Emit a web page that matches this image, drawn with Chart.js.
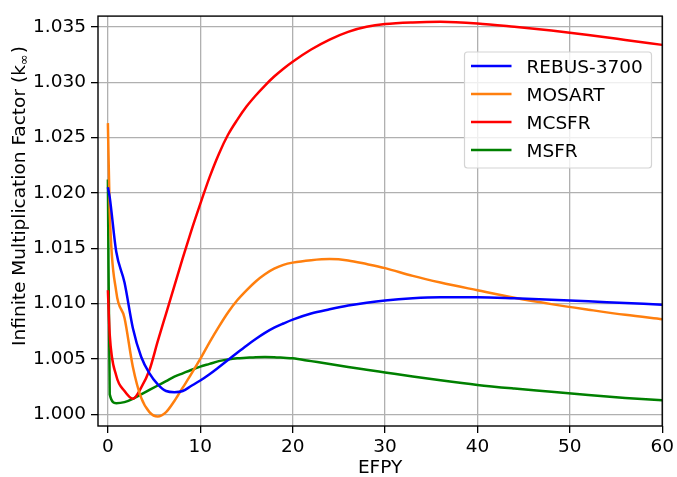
<!DOCTYPE html>
<html>
<head>
<meta charset="utf-8">
<script src="https://cdn.jsdelivr.net/npm/chart.js@4.4.0/dist/chart.umd.min.js"></script>
<style>
  html, body { margin: 0; padding: 0; background: #fff; }
  #wrap { width: 677px; height: 477px; }
</style>
</head>
<body>
<div id="wrap"><canvas id="myChart" width="677" height="477"></canvas></div>
<script>
// EFPY grid shared by all four curves
var efpy = [0, 0.2, 0.9, 1.8, 2.7, 3.6, 4.5, 5.4, 6.3, 7.2, 8.1, 9, 10, 11, 12, 13, 14, 15, 16, 17, 18, 19, 20,
            22, 24, 26, 28, 30, 33, 36, 40, 44, 48, 52, 56, 60];

var kRebus  = [1.0205, 1.0196, 1.0147, 1.0119, 1.0078, 1.0052, 1.0037, 1.0027, 1.0021, 1.0020, 1.0021, 1.00255,
               1.00305, 1.00362, 1.00425, 1.0049, 1.00556, 1.0062, 1.0068, 1.00735, 1.00782, 1.0082, 1.00855,
               1.0091, 1.00948, 1.00982, 1.01008, 1.01028, 1.01047, 1.01056, 1.01057, 1.01048, 1.01035, 1.0102, 1.01005, 1.0099];
var kMosart = [1.0263, 1.0183, 1.0111, 1.0087, 1.0043, 1.0015, 1.0002, 0.9998, 1.0002, 1.0012, 1.0024, 1.0036,
               1.0050, 1.0065, 1.0079, 1.0092, 1.0103, 1.0112, 1.0120, 1.01265, 1.01315, 1.0135, 1.0137,
               1.01392, 1.01402, 1.0139, 1.01357, 1.0132, 1.0125, 1.0119, 1.0112, 1.01052, 1.00995, 1.00945, 1.00898, 1.00859];
var kMcsfr  = [1.0112, 1.0072, 1.0035, 1.0021, 1.0014, 1.0024, 1.0040, 1.0066, 1.0091, 1.0116, 1.0141, 1.0165,
               1.0190, 1.0214, 1.0235, 1.02525, 1.0266, 1.0278, 1.0288, 1.0297, 1.03051, 1.03122, 1.03185,
               1.03295, 1.03385, 1.03455, 1.0350, 1.03525, 1.0354, 1.03545, 1.0353, 1.0350, 1.03466, 1.03426, 1.03382, 1.03337];
var kMsfr   = [1.0212, 1.0018, 1.0010, 1.0011, 1.0014, 1.0018, 1.0022, 1.0026, 1.0030, 1.0034, 1.0037, 1.0040,
               1.0043, 1.00455, 1.0048, 1.00495, 1.00505, 1.0051, 1.00515, 1.00517, 1.00515, 1.0051, 1.00505,
               1.0048, 1.00455, 1.00427, 1.00402, 1.00378, 1.00342, 1.00307, 1.00265, 1.00232, 1.00203, 1.00173, 1.00148, 1.00127];

var seriesNames  = ["REBUS-3700", "MOSART", "MCSFR", "MSFR"];
var seriesValues = [kRebus, kMosart, kMcsfr, kMsfr];
var seriesColors = ["#0000ff", "#ff7f0e", "#ff0000", "#008000"];

var xTicks = [0, 10, 20, 30, 40, 50, 60];
var yTicks = [1.000, 1.005, 1.010, 1.015, 1.020, 1.025, 1.030, 1.035];

var FONT = "'DejaVu Sans', sans-serif";
var FSIZE = 18.5;
Chart.defaults.font.family = FONT;
Chart.defaults.font.size = FSIZE;
Chart.defaults.color = "#000";

function toPoints(ys) {
    return efpy.map(function (x, i) { return { x: x, y: ys[i] }; });
}

var datasets = seriesNames.map(function (name, i) {
    return {
        label: name,
        data: toPoints(seriesValues[i]),
        borderColor: seriesColors[i],
        backgroundColor: seriesColors[i],
        borderWidth: 2.5,
        pointRadius: 0,
        fill: false,
        cubicInterpolationMode: "monotone"
    };
});

// frame, legend box and y label, matplotlib style
var decorations = {
    id: "decorations",
    afterDatasetsDraw: function (chart) {
        var ctx = chart.ctx;
        var a = chart.chartArea;
        ctx.save();
        ctx.strokeStyle = "#000";
        ctx.lineWidth = 1.4;
        ctx.strokeRect(a.left, a.top, a.right - a.left, a.bottom - a.top);

        // legend
        var bx = 464.5, by = 52, bw = 187, bh = 116;
        ctx.beginPath();
        ctx.roundRect(bx, by, bw, bh, 3);
        ctx.fillStyle = "rgba(255,255,255,0.8)";
        ctx.fill();
        ctx.strokeStyle = "#d4d4d4";
        ctx.lineWidth = 1.2;
        ctx.stroke();
        ctx.font = FSIZE + "px " + FONT;
        ctx.textBaseline = "alphabetic";
        ctx.textAlign = "left";
        chart.data.datasets.forEach(function (ds, i) {
            var y = 66 + i * 28;
            ctx.beginPath();
            ctx.moveTo(471, y);
            ctx.lineTo(511.5, y);
            ctx.strokeStyle = ds.borderColor;
            ctx.lineWidth = 2.5;
            ctx.stroke();
            ctx.fillStyle = "#000";
            ctx.fillText(ds.label, 526.5, y + 7.3);
        });

        // y axis title with subscript infinity
        ctx.translate(19, 196.5);
        ctx.rotate(-Math.PI / 2);
        var main = "Infinite Multiplication Factor (k";
        ctx.font = FSIZE + "px " + FONT;
        var w1 = ctx.measureText(main).width;
        ctx.font = "13px " + FONT;
        var w2 = ctx.measureText("\u221e").width;
        ctx.font = FSIZE + "px " + FONT;
        var w3 = ctx.measureText(")").width;
        var start = -(w1 + w2 + w3) / 2;
        ctx.textAlign = "left";
        ctx.textBaseline = "alphabetic";
        ctx.fillText(main, start, 6);
        ctx.font = "13px " + FONT;
        ctx.fillText("\u221e", start + w1, 9);
        ctx.font = FSIZE + "px " + FONT;
        ctx.fillText(")", start + w1 + w2 + 1, 6);
        ctx.restore();
    }
};

new Chart("myChart", {
    type: "line",
    data: { datasets: datasets },
    options: {
        responsive: false,
        animation: false,
        devicePixelRatio: 1,
        layout: { padding: { top: 5, right: 14, left: 0, bottom: 0 } },
        plugins: {
            legend: { display: false },
            tooltip: { enabled: false }
        },
        scales: {
            x: {
                type: "linear",
                min: -1.07,
                max: 60,
                afterBuildTicks: function (scale) {
                    scale.ticks = xTicks.map(function (v) { return { value: v }; });
                },
                afterFit: function (scale) { scale.height = 51; },
                ticks: {
                    padding: 3,
                    maxRotation: 0,
                    callback: function (v) { return String(v); }
                },
                grid: { color: "#b0b0b0", lineWidth: 1.3, tickLength: 7, tickColor: "#000", tickWidth: 1.3 },
                border: { display: false },
                title: { display: true, text: "EFPY", font: { lineHeight: 1 }, padding: { top: 0, bottom: 0 } }
            },
            y: {
                type: "linear",
                min: 0.99894,
                max: 1.03597,
                afterBuildTicks: function (scale) {
                    scale.ticks = yTicks.map(function (v) { return { value: v }; });
                },
                afterFit: function (scale) { scale.width = 98; },
                ticks: {
                    padding: 5,
                    callback: function (v) { return v.toFixed(3); }
                },
                grid: { color: "#b0b0b0", lineWidth: 1.3, tickLength: 7, tickColor: "#000", tickWidth: 1.3 },
                border: { display: false }
            }
        }
    },
    plugins: [decorations]
});
</script>
</body>
</html>
